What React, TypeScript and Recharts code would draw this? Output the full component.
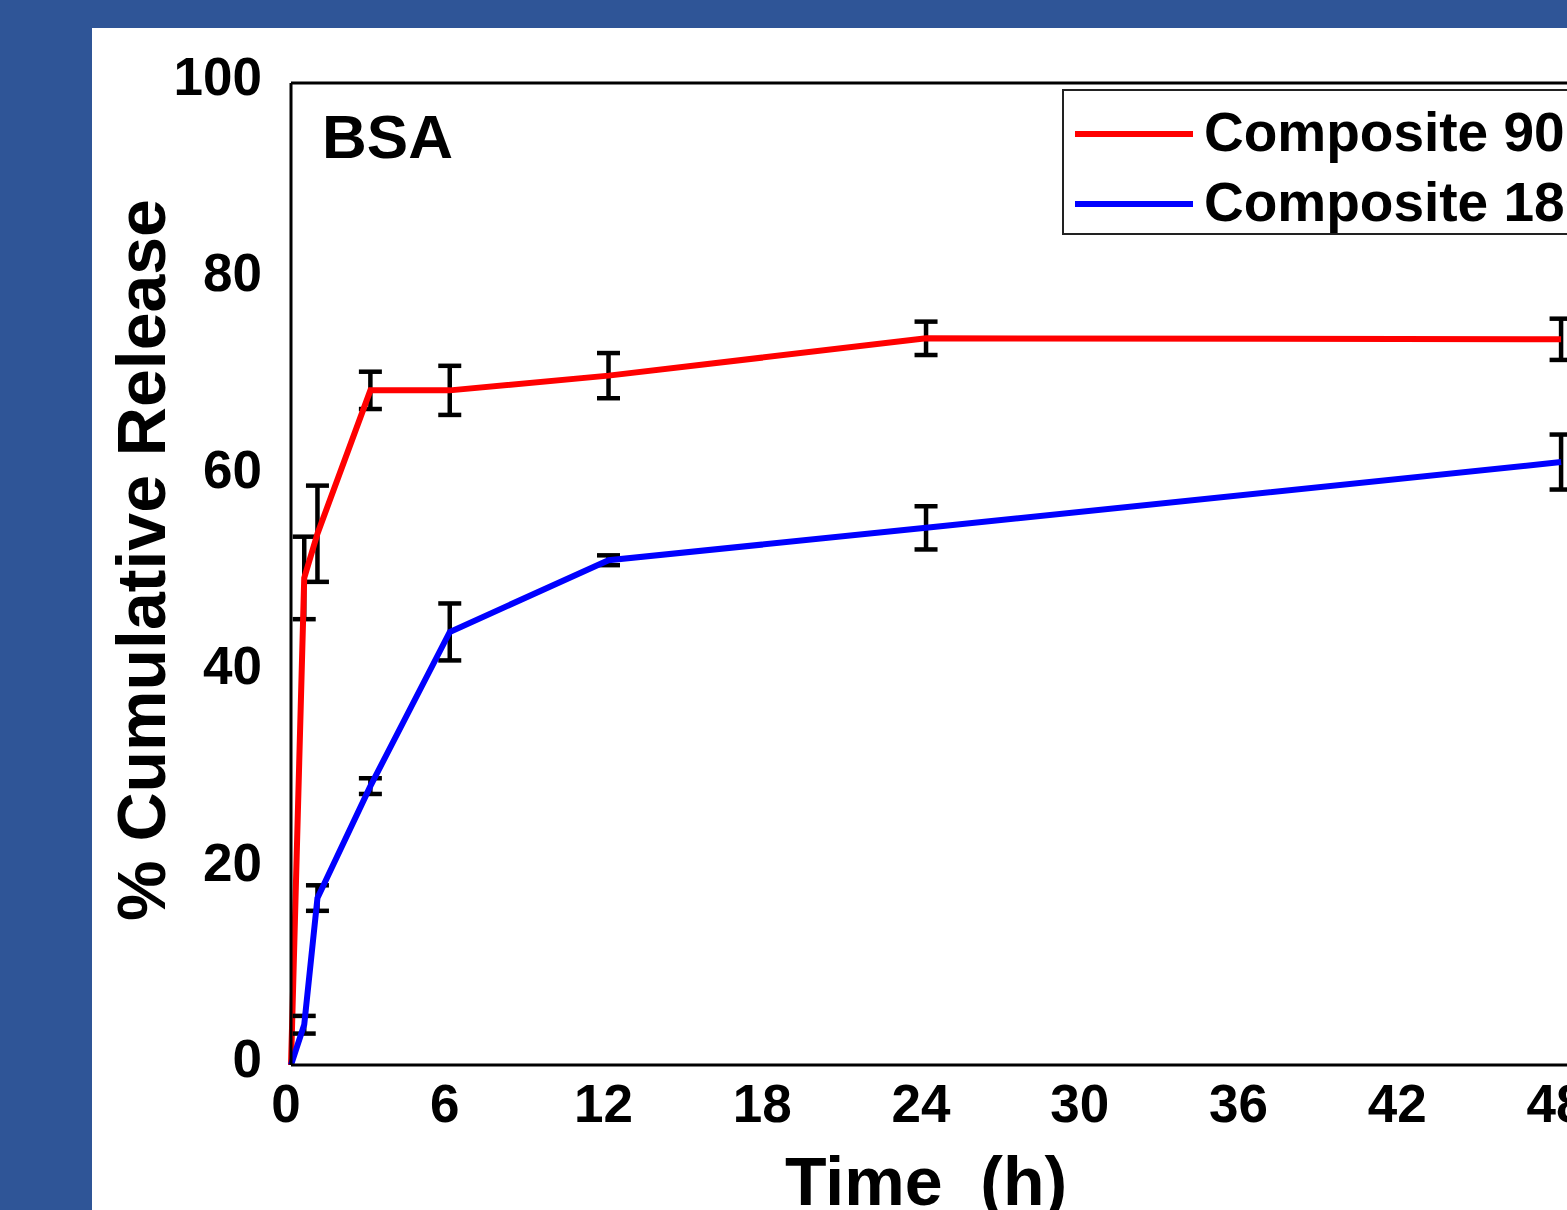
import React from "react";
import { ComposedChart, Line, XAxis, YAxis, ErrorBar, ReferenceLine } from "recharts";

const FONT = '"Liberation Sans", Arial, sans-serif';

// release time points (h)
const TIME_H = [0, 0.5, 1, 3, 6, 12, 24, 48];
// % cumulative release, mean and SD
const COMPOSITE_90 = [0, 49.6, 54.1, 68.7, 68.7, 70.2, 74.0, 73.9];
const COMPOSITE_90_SD = [null, 4.2, 4.9, 1.9, 2.5, 2.3, 1.7, 2.1];
const COMPOSITE_180 = [0, 4.1, 17.0, 28.4, 44.1, 51.4, 54.7, 61.4];
const COMPOSITE_180_SD = [null, 0.9, 1.3, 0.8, 2.9, 0.5, 2.2, 2.8];

const X_TICKS = [0, 6, 12, 18, 24, 30, 36, 42, 48];
const Y_TICKS = [0, 20, 40, 60, 80, 100];

const SERIES = [
  { key: "c90", err: "c90Err", name: "Composite 90 min", color: "#FF0000" },
  { key: "c180", err: "c180Err", name: "Composite 180 min", color: "#0000FF" },
];

const rows = TIME_H.map((t, i) => ({
  t,
  c90: COMPOSITE_90[i],
  c90Err: COMPOSITE_90_SD[i],
  c180: COMPOSITE_180[i],
  c180Err: COMPOSITE_180_SD[i],
}));

const bold = { fontFamily: FONT, fontWeight: 700, fill: "#000" } as const;

function YTick({ x, y, payload }: any) {
  return (
    <text x={x} y={y} dy={12} textAnchor="end" fontSize={53} style={bold}>
      {payload.value}
    </text>
  );
}

function XTick({ x, y, payload }: any) {
  return (
    <text x={x} y={y} dx={-5} dy={57} textAnchor="middle" fontSize={53} style={bold}>
      {payload.value}
    </text>
  );
}

function YTitle({ viewBox }: any) {
  const cx = viewBox.x + viewBox.width - 126;
  const cy = viewBox.y + viewBox.height / 2 - 14;
  return (
    <text
      x={cx}
      y={cy}
      transform={`rotate(-90 ${cx} ${cy})`}
      textAnchor="middle"
      fontSize={68}
      style={bold}
    >
      % Cumulative Release
    </text>
  );
}

function XTitle({ viewBox }: any) {
  // centred under t = 24 h (domain runs to 50)
  const cx = viewBox.x + (viewBox.width * 24) / 50;
  return (
    <text
      x={cx}
      y={viewBox.y + 140}
      textAnchor="middle"
      fontSize={68}
      style={{ ...bold, whiteSpace: "pre" }}
    >
      {"Time  (h)"}
    </text>
  );
}

export default function App() {
  return (
    <div
      style={{
        position: "fixed",
        left: 0,
        top: 0,
        width: 1567,
        height: 1210,
        overflow: "hidden",
        background: "#2F5597",
      }}
    >
      <div
        style={{
          position: "absolute",
          left: 92,
          top: 28,
          width: 1600,
          height: 1250,
          background: "#fff",
        }}
      >
        <ComposedChart
          width={1600}
          height={1250}
          data={rows}
          margin={{ top: 55, right: 78, bottom: 153, left: 79 }}
        >
          <XAxis
            dataKey="t"
            type="number"
            domain={[0, 50]}
            ticks={X_TICKS}
            interval={0}
            height={60}
            tickLine={false}
            tickSize={0}
            tickMargin={0}
            tick={<XTick />}
            axisLine={{ stroke: "#000", strokeWidth: 3 }}
            label={XTitle}
          />
          <YAxis
            type="number"
            domain={[0, 100]}
            ticks={Y_TICKS}
            interval={0}
            width={120}
            tickLine={false}
            tickSize={0}
            tickMargin={29}
            tick={<YTick />}
            axisLine={{ stroke: "#000", strokeWidth: 3 }}
            label={YTitle}
          />
          {/* top edge of the plot frame */}
          <ReferenceLine y={100} stroke="#000" strokeWidth={3} ifOverflow="visible" />
          {SERIES.map((s) => (
            <Line
              key={s.key}
              dataKey={s.key}
              name={s.name}
              type="linear"
              stroke={s.color}
              strokeWidth={6}
              dot={false}
              activeDot={false}
              isAnimationActive={false}
            >
              <ErrorBar
                dataKey={s.err}
                direction="y"
                width={11.5}
                stroke="#000"
                strokeWidth={4.5}
                isAnimationActive={false}
              />
            </Line>
          ))}
        </ComposedChart>
      </div>
      <svg
        width={1567}
        height={1210}
        style={{ position: "absolute", left: 0, top: 0, pointerEvents: "none" }}
      >
        <text x={322} y={158} fontSize={62} style={bold}>
          BSA
        </text>
        <rect x={1063} y={90} width={600} height={144} fill="#fff" stroke="#222" strokeWidth={2} />
        {SERIES.map((s, i) => (
          <g key={s.key}>
            <line x1={1075} x2={1193} y1={134 + i * 70} y2={134 + i * 70} stroke={s.color} strokeWidth={6} />
            <text x={1204} y={151 + i * 70} fontSize={55} style={bold}>
              {s.name}
            </text>
          </g>
        ))}
      </svg>
    </div>
  );
}
